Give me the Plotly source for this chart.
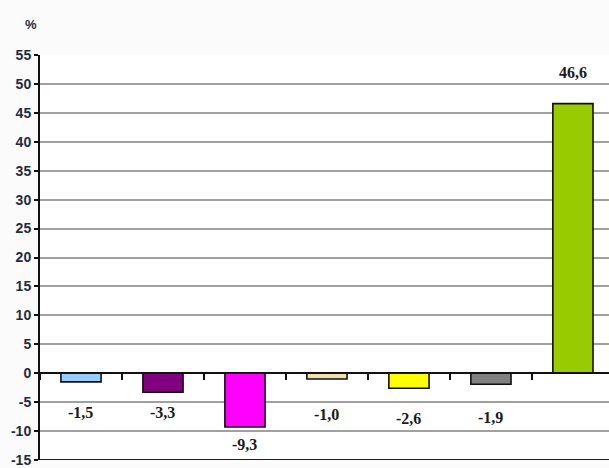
import plotly.graph_objects as go

# Change by category, %
categories = ["A", "B", "C", "D", "E", "F", "G"]
values = [-1.5, -3.3, -9.3, -1.0, -2.6, -1.9, 46.6]
value_labels = ["-1,5", "-3,3", "-9,3", "-1,0", "-2,6", "-1,9", "46,6"]
bar_colors = ["#99CCFF", "#800080", "#FF00FF", "#F3DFAE", "#FFFF00", "#808080", "#99CC00"]
# vertical placement of each value label, in axis units
label_y = [-6.8, -6.8, -12.4, -7.1, -7.9, -7.6, 51.9]

y_ticks = list(range(-15, 56, 5))
y_ticktext = [f"<b>{v}</b>" for v in y_ticks]

fig = go.Figure()
fig.add_trace(go.Bar(
    x=categories,
    y=values,
    width=0.49,
    marker=dict(color=bar_colors, line=dict(color="#111111", width=1.6)),
    hoverinfo="skip",
))

for cat, ly, txt in zip(categories, label_y, value_labels):
    fig.add_annotation(
        x=cat, y=ly, text=f"<b>{txt}</b>", showarrow=False,
        font=dict(family="Liberation Serif, Times New Roman, serif", size=16, color="#1a1a1a"),
        xanchor="center", yanchor="middle",
    )

# percent unit above the value axis
fig.add_annotation(
    xref="paper", yref="paper", x=-0.015, y=1.075, text="<b>%</b>",
    showarrow=False, xanchor="center", yanchor="middle",
    font=dict(family="Liberation Sans, Arial, sans-serif", size=13, color="#1f2a44"),
)

# bottom border of the plotting area
fig.add_shape(type="line", xref="paper", yref="y", x0=0, x1=1, y0=-15, y1=-15,
              line=dict(color="#222222", width=2))

fig.update_layout(
    width=609, height=468,
    margin=dict(l=40, r=0, t=55, b=4),
    paper_bgcolor="#FBFBFB",
    plot_bgcolor="#FFFFFF",
    showlegend=False,
    bargap=0.5,
    xaxis=dict(
        type="category",
        range=[-0.5, 6.44],
        anchor="free",
        position=15 / 70,
        showline=True, linecolor="#111111", linewidth=2,
        ticks="outside", tickson="boundaries", ticklen=6, tickwidth=2, tickcolor="#111111",
        showticklabels=False,
        showgrid=False, zeroline=False,
    ),
    yaxis=dict(
        range=[-15, 55],
        tickvals=y_ticks, ticktext=y_ticktext,
        ticklabeloverflow="allow",
        showline=True, linecolor="#111111", linewidth=2,
        ticks="outside", ticklen=4, tickwidth=2, tickcolor="#111111",
        showgrid=True, gridcolor="#a0a0a0", gridwidth=2,
        zeroline=False,
        tickfont=dict(family="Liberation Sans, Arial, sans-serif", size=14, color="#1f2a44"),
    ),
)

fig.write_html("out.html")
